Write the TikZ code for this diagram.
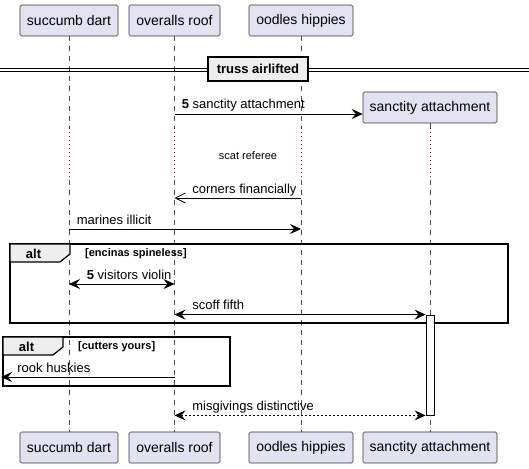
\documentclass[tikz,border=0pt]{standalone}
\usepackage{fontspec}
\setmainfont{Liberation Sans}
\usetikzlibrary{arrows.meta}
\definecolor{partfill}{HTML}{E2E2F0}
\definecolor{tabfill}{HTML}{EEEEEE}
\definecolor{delayred}{HTML}{A80036}
\tikzset{
  part/.style={draw=black!80, fill=partfill, rounded corners=1.5pt, minimum height=31, inner sep=0pt, line width=0.6pt, font=\fontsize{14}{16}\selectfont},
  life/.style={draw=black!70, line width=0.5pt, dash pattern=on 5pt off 5pt},
  delay/.style={draw=delayred, line width=0.7pt, dash pattern=on 0.8pt off 3.2pt},
  lbl/.style={inner sep=0pt, font=\fontsize{13}{15}\selectfont},
  msg/.style={line width=0.8pt, -{Stealth[length=11pt,width=10pt,inset=4pt]}},
  bimsg/.style={line width=0.8pt, {Stealth[length=11pt,width=10pt,inset=4pt]}-{Stealth[length=11pt,width=10pt,inset=4pt]}},
  openmsg/.style={line width=0.8pt, -{Straight Barb[length=10pt,width=10pt]}},
  frame/.style={draw=black, line width=1.5pt},
  tab/.style={draw=black, fill=tabfill, line width=1.2pt},
  cond/.style={inner sep=0pt, font=\bfseries\fontsize{11}{13}\selectfont, anchor=west},
  actbar/.style={draw=black, fill=white, line width=0.8pt, minimum width=8, minimum height=100, inner sep=0pt}
}
\begin{document}
\begin{tikzpicture}[x=1pt,y=-1pt]
  \useasboundingbox (0,0) rectangle (529,468);

  % participants
  \node[part, minimum width=98] (sd) at (69,20.5) {succumb dart};
  \node[part, minimum width=91] (or) at (174.5,20.5) {overalls roof};
  \node[part, minimum width=104] (oh) at (301,20.5) {oodles hippies};
  \node[part, minimum width=134] (sa) at (430,107.5) {sanctity attachment};
  \node[part, minimum width=98] (sd-b) at (69,447.5) {succumb dart};
  \node[part, minimum width=91] (or-b) at (174.5,447.5) {overalls roof};
  \node[part, minimum width=104] (oh-b) at (301,447.5) {oodles hippies};
  \node[part, minimum width=134] (sa-b) at (430,447.5) {sanctity attachment};

  % delay rows
  \coordinate (d1) at (0,128);
  \coordinate (d2) at (0,180);
  \foreach \p in {sd,or,oh,sa}{
    \draw[life] (\p.south) -- (\p |- d1);
    \draw[delay] (\p |- d1) -- (\p |- d2);
    \draw[life] (\p |- d2) -- (\p-b.north);
  }
  \node[lbl, font=\fontsize{11}{13}\selectfont] (scat) at (248,156) {scat referee};

  % divider
  \draw[line width=0.8pt] (0,68) -- (529,68);
  \draw[line width=0.8pt] (0,71) -- (529,71);
  \node[draw=black, fill=tabfill, line width=1.6pt, minimum width=100, minimum height=24, inner sep=0pt,
        font=\bfseries\fontsize{13}{15}\selectfont] (div) at (258,69) {truss airlifted};

  % message rows
  \coordinate (m1) at (0,114);
  \coordinate (m2) at (0,198);
  \coordinate (m3) at (0,229);
  \coordinate (m4) at (0,284);
  \coordinate (m6) at (0,377);
  \coordinate (lft) at (1,377);

  \draw[msg] (or |- m1) -- (sa.west |- m1)
    node[lbl, pos=0, anchor=base west, xshift=7pt, yshift=5pt] {\textbf{5} sanctity attachment};
  \draw[openmsg] (oh |- m2) -- (or |- m2)
    node[lbl, pos=1, anchor=base west, xshift=17.5pt, yshift=5pt] {corners financially};
  \draw[msg] (sd |- m3) -- (oh |- m3)
    node[lbl, pos=0, anchor=base west, xshift=7.5pt, yshift=5pt] {marines illicit};

  % first alt
  \draw[frame] (10,244) rectangle (508,323);
  \filldraw[tab] (10,244) -- (70,244) -- (70,254) -- (60,262) -- (10,262) -- cycle;
  \node[lbl, font=\bfseries\fontsize{13}{15}\selectfont] (alt1) at (33.5,254) {alt};
  \node[cond] (c1) at (85,254) {[encinas spineless]};

  \node[actbar] (act) at (430,365) {};

  \draw[bimsg] (sd |- m4) -- (or |- m4)
    node[lbl, pos=0, anchor=base west, xshift=17.5pt, yshift=5pt] {\textbf{5} visitors violin};
  \draw[bimsg] (or |- act.north) -- (act.north west)
    node[lbl, pos=0, anchor=base west, xshift=17.5pt, yshift=5pt] {scoff fifth};

  % second alt
  \draw[frame] (3,337) rectangle (230,386);
  \filldraw[tab] (3,337) -- (63,337) -- (63,347) -- (53,355) -- (3,355) -- cycle;
  \node[lbl, font=\bfseries\fontsize{13}{15}\selectfont] (alt2) at (26.5,347) {alt};
  \node[cond] (c2) at (78,347) {[cutters yours]};
  \draw[msg] (or |- m6) -- (lft)
    node[lbl, pos=1, anchor=base west, xshift=16pt, yshift=5pt] {rook huskies};

  \draw[bimsg, dash pattern=on 2pt off 2pt] (or |- act.south) -- (act.south west)
    node[lbl, pos=0, anchor=base west, xshift=17.5pt, yshift=5pt] {misgivings distinctive};
\end{tikzpicture}
\end{document}
